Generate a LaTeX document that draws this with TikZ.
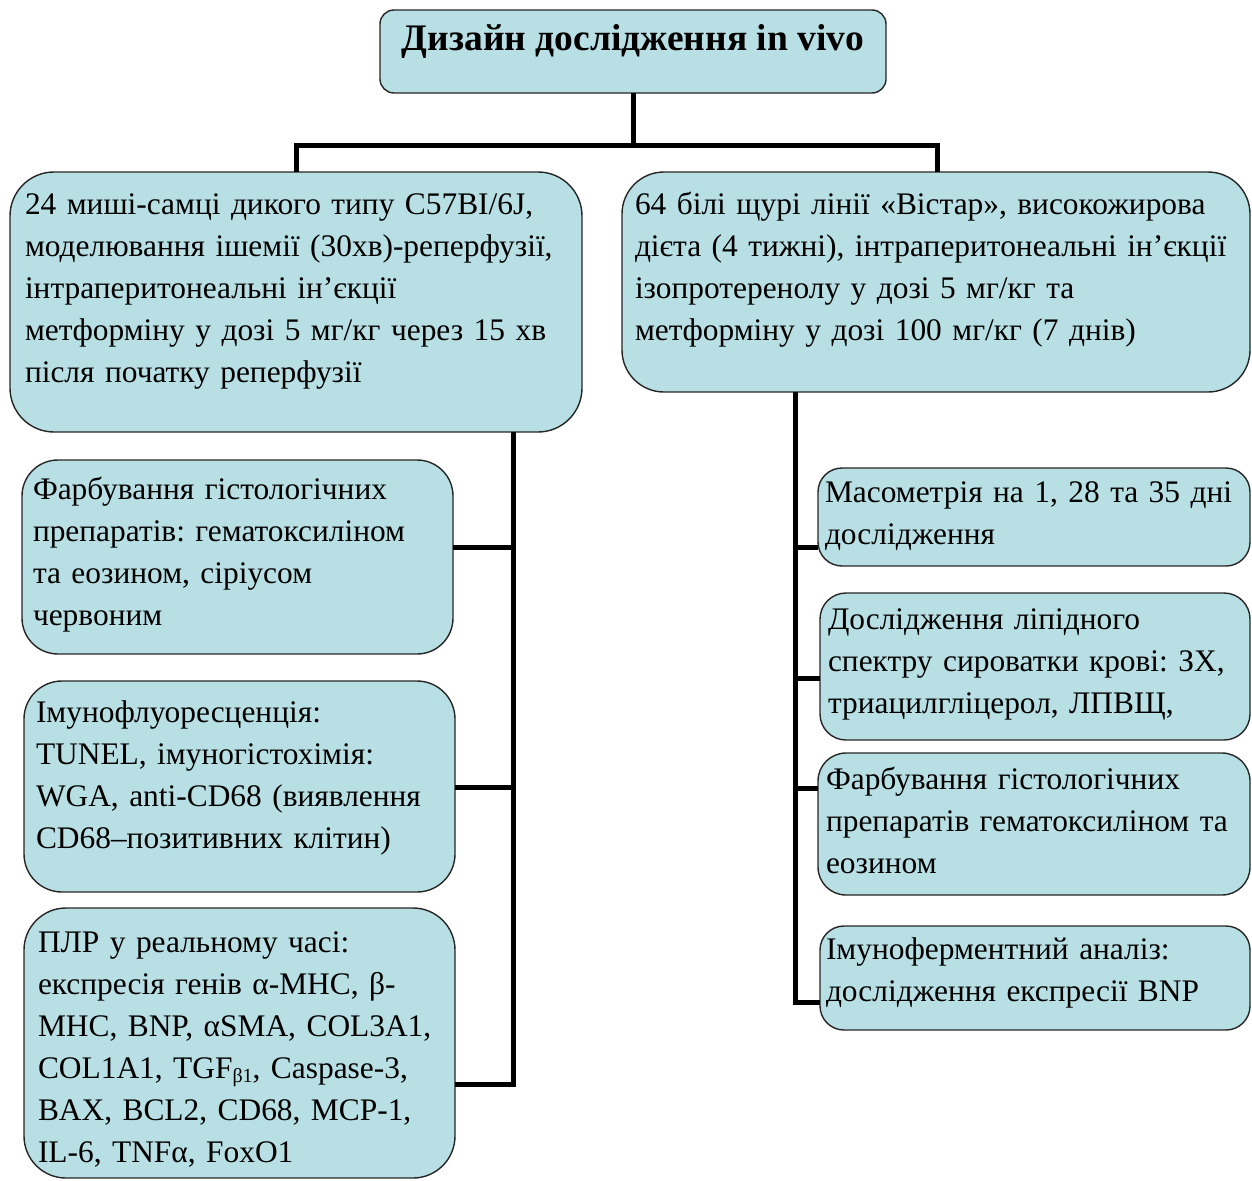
\documentclass[tikz,border=0pt]{standalone}
\usepackage{fontspec}
\setmainfont{Liberation Serif}
\frenchspacing
\definecolor{boxfill}{RGB}{184,223,227}
\tikzset{
  box/.style={draw=black!85, line width=1.4pt, fill=boxfill, inner sep=0pt, outer sep=0pt, anchor=north west, rectangle},
  txt/.style={anchor=base west, inner sep=0pt, outer sep=0pt, align=left, text width=660pt, font=\fontsize{31.4}{42}\selectfont},
  conn/.style={line width=5pt, draw=black}
}
\begin{document}
\begin{tikzpicture}[x=1pt,y=-1pt]
\useasboundingbox (0,0) rectangle (1252,1180);
% boxes
\node[box, rounded corners=14pt, minimum width=506pt, minimum height=83pt] (title) at (380,10) {};
\node[box, rounded corners=44pt, minimum width=572pt, minimum height=260pt] (L1) at (10,172) {};
\node[box, rounded corners=42pt, minimum width=628pt, minimum height=220pt] (R1) at (622,172) {};
\node[box, rounded corners=36pt, minimum width=431pt, minimum height=194pt] (L2) at (22,460) {};
\node[box, rounded corners=38pt, minimum width=431pt, minimum height=211pt] (L3) at (24,681) {};
\node[box, rounded corners=42pt, minimum width=431pt, minimum height=270pt] (L4) at (24,908) {};
\node[box, rounded corners=24pt, minimum width=432pt, minimum height=98pt] (R2) at (818,468) {};
\node[box, rounded corners=26pt, minimum width=430pt, minimum height=147pt] (R3) at (820,593) {};
\node[box, rounded corners=28pt, minimum width=432pt, minimum height=142pt] (R4) at (818,753) {};
\node[box, rounded corners=24pt, minimum width=430pt, minimum height=104pt] (R5) at (820,926) {};
% connectors
\coordinate (top) at (633,145);
\coordinate (lt) at (513,432);
\coordinate (rt) at (795,392);
\draw[conn] (title.south) -- (top);
\draw[conn] (top) -| (L1.north -| 296,0);
\draw[conn] (top) -| (R1.north -| 937,0);
\draw[conn] (lt) |- ([yshift=-41pt]L4.east);
\draw[conn] (lt |- 0,547) -- (L2.east |- 0,547);
\draw[conn] (lt |- 0,787) -- (L3.east |- 0,787);
\draw[conn] (rt) |- ([yshift=-24pt]R5.west);
\draw[conn] (rt |- 0,547) -- (R2.west |- 0,547);
\draw[conn] (rt |- 0,678) -- (R3.west |- 0,678);
\draw[conn] (rt |- 0,788) -- (R4.west |- 0,788);
% texts
\node[anchor=base, inner sep=0pt, font=\fontsize{37.5}{42}\selectfont\bfseries] (ttitle) at (633,51) {Дизайн дослідження in vivo};
\node[txt] (tL1) at (25,214) {24 миші-самці дикого типу C57BI/6J,\\моделювання ішемії (30хв)-реперфузії,\\інтраперитонеальні ін’єкції\\метформіну у дозі 5 мг/кг через 15 хв\\після початку реперфузії};
\node[txt] (tR1) at (635,214) {64 білі щурі лінії «Вістар», високожирова\\дієта (4 тижні), інтраперитонеальні ін’єкції\\ізопротеренолу у дозі 5 мг/кг та\\метформіну у дозі 100 мг/кг (7 днів)};
\node[txt] (tL2) at (33,499) {Фарбування гістологічних\\препаратів: гематоксиліном\\та еозином, сіріусом\\червоним};
\node[txt] (tL3) at (36,722) {Імунофлуоресценція:\\TUNEL, імуногістохімія:\\WGA, anti-CD68 (виявлення\\CD68–позитивних клітин)};
\node[txt] (tL4) at (38,952) {ПЛР у реальному часі:\\експресія генів α-MHC, β-\\MHC, BNP, αSMA, COL3A1,\\COL1A1, TGF{\fontsize{20}{20}\selectfont\raisebox{-4pt}{β1}}, Caspase-3,\\BAX, BCL2, CD68, MCP-1,\\IL-6, TNFα, FoxO1};
\node[txt] (tR2) at (825,502) {Масометрія на 1, 28 та 35 дні\\дослідження};
\node[txt] (tR3) at (828,629) {Дослідження ліпідного\\спектру сироватки крові: ЗХ,\\триацилгліцерол, ЛПВЩ,};
\node[txt] (tR4) at (826,789) {Фарбування гістологічних\\препаратів гематоксиліном та\\еозином};
\node[txt] (tR5) at (826,959) {Імуноферментний аналіз:\\дослідження експресії BNP};
\end{tikzpicture}
\end{document}
